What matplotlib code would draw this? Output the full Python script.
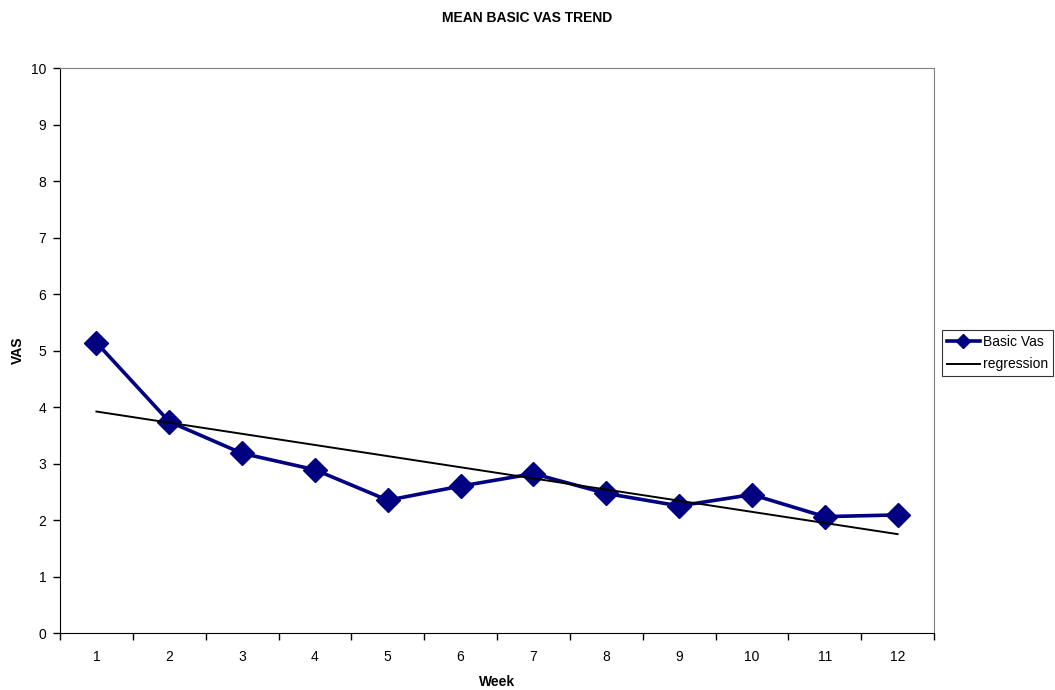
import numpy as np
import matplotlib.pyplot as plt
from matplotlib.ticker import FixedLocator, NullFormatter, FixedFormatter

plt.rcParams['font.family'] = ['Liberation Sans', 'DejaVu Sans']

weeks = [1, 2, 3, 4, 5, 6, 7, 8, 9, 10, 11, 12]
basic_vas = [5.14, 3.74, 3.18, 2.89, 2.35, 2.60, 2.82, 2.47, 2.25, 2.45, 2.06, 2.09]
reg_weeks = [1, 12]
reg_vals = [3.92, 1.75]

fig = plt.figure(figsize=(10.55, 6.9), dpi=100)
ax = fig.add_axes([0.0569, 0.0826, 0.8284, 0.8188])

ax.plot(weeks, basic_vas, color='#000080', lw=2.6, marker='D', markersize=12.5,
        label='Basic Vas', zorder=3)
ax.plot(reg_weeks, reg_vals, color='black', lw=1.4, label='regression', zorder=4)

ax.set_xlim(0.5, 12.5)
ax.set_ylim(0, 10)
ax.set_yticks(range(0, 11))
ax.xaxis.set_major_locator(FixedLocator(np.arange(0.5, 13, 1)))
ax.xaxis.set_major_formatter(NullFormatter())
ax.xaxis.set_minor_locator(FixedLocator(weeks))
ax.xaxis.set_minor_formatter(FixedFormatter([str(w) for w in weeks]))
ax.tick_params(axis='x', which='major', length=5, width=1, direction='out')
ax.tick_params(axis='x', which='minor', length=0, pad=12, labelsize=10)
ax.tick_params(axis='y', length=5, width=1, direction='out', labelsize=10, pad=5)

for s in ['top', 'right']:
    ax.spines[s].set_color('#808080')
for s in ['left', 'bottom']:
    ax.spines[s].set_color('black')

ax.set_xlabel('Week', fontsize=10, fontweight='bold', labelpad=8)
ax.set_ylabel('VAS', fontsize=10, fontweight='bold', labelpad=4)
fig.text(0.5, 0.974, 'MEAN BASIC VAS TREND', ha='center', va='center',
         fontsize=10, fontweight='bold')

leg = ax.legend(loc='upper left', bbox_to_anchor=(1.009, 0.536), fontsize=10,
                frameon=True, fancybox=False, edgecolor='black', borderpad=0.35,
                borderaxespad=0, handlelength=2.4, handletextpad=0.2,
                labelspacing=0.6, markerscale=0.55)
leg.get_frame().set_linewidth(0.8)

fig.savefig('out.png', dpi=100)
